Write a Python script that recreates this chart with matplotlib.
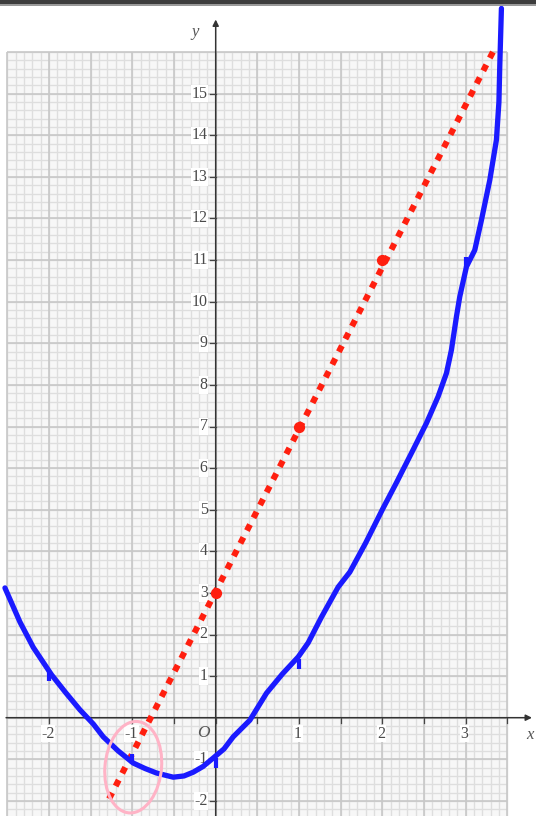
import matplotlib

matplotlib.use("Agg")
import matplotlib.pyplot as plt
import numpy as np
from matplotlib.patches import Ellipse, Rectangle

# hand-drawn blue curve
curve_x = [-2.53, -2.35, -2.19, -1.97, -1.80, -1.63, -1.47, -1.35, -1.17, -0.99,
           -0.85, -0.71, -0.51, -0.38, -0.27, -0.15, -0.03, 0.10, 0.21, 0.41,
           0.61, 0.80, 0.99, 1.11, 1.27, 1.47, 1.61, 1.80, 2.00, 2.17,
           2.37, 2.53, 2.67, 2.77, 2.83, 2.89, 2.93, 3.01, 3.11, 3.19,
           3.29, 3.37, 3.40, 3.41, 3.43]
curve_y = [3.12, 2.30, 1.69, 1.03, 0.60, 0.19, -0.15, -0.46, -0.80, -1.09,
           -1.22, -1.33, -1.43, -1.40, -1.31, -1.17, -0.97, -0.75, -0.46, -0.06,
           0.59, 1.05, 1.46, 1.80, 2.42, 3.14, 3.50, 4.20, 5.00, 5.65,
           6.44, 7.08, 7.72, 8.28, 8.84, 9.64, 10.12, 10.84, 11.24, 11.96,
           12.92, 13.89, 14.80, 15.65, 17.05]

# plotted points marked on the curve
mark_x = [-2, -1, 0, 1, 3]
mark_y = [1.0, -1.0, -1.1, 1.3, 10.95]

# red dotted straight line y = 4x + 3 and its plotted points
line_x = [-1.28, 3.34]
line_y = [-1.95, 16.05]
red_x = [0, 1, 2]
red_y = [3, 7, 11]

x_ticks = [-2, -1, 1, 2, 3]
x_tick_labels = ["-2", "-1", "1", "2", "3"]
y_ticks = [-2, -1, 1, 2, 3, 4, 5, 6, 7, 8, 9, 10, 11, 12, 13, 14, 15]

# pixel geometry of the scan
W, H = 536, 816
X0, XS = 215.7, 83.3   # px of x=0, px per unit
Y0, YS = 717.7, 41.6   # px of y=0, px per unit

fig = plt.figure(figsize=(W / 100, H / 100), dpi=100)
ax = fig.add_axes([0, 0, 1, 1])
ax.set_xlim(-X0 / XS, (W - X0) / XS)
ax.set_ylim((Y0 - H) / YS, Y0 / YS)
ax.axis("off")

# graph paper
gx0, gx1, gy0, gy1 = -2.5, 3.5, -2.6, 16.0
ax.add_patch(Rectangle((gx0, gy0), gx1 - gx0, gy1 - gy0, facecolor="#f7f7f7",
                       edgecolor="none", zorder=0))
minor_x = np.arange(-25, 36) / 10
minor_y = np.arange(-13, 81) / 5
ax.vlines(minor_x, gy0, gy1, color="#dedede", lw=1.0, zorder=1)
ax.hlines(minor_y[minor_y <= gy1], gx0, gx1, color="#dedede", lw=1.0, zorder=1)
major_x = np.arange(-5, 8) / 2
major_y = np.arange(-2, 17)
ax.vlines(major_x, gy0, gy1, color="#c8c8c8", lw=1.2, zorder=1)
ax.hlines(major_y, gx0, gx1, color="#c8c8c8", lw=1.2, zorder=1)

# axes with arrows
ax.annotate("", xy=(3.83, 0), xytext=(gx0 - 0.05, 0),
            arrowprops=dict(arrowstyle="-|>", color="#333333", lw=1.1,
                            mutation_scale=9), zorder=3)
ax.annotate("", xy=(0, 16.85), xytext=(0, gy0),
            arrowprops=dict(arrowstyle="-|>", color="#333333", lw=1.1,
                            mutation_scale=9), zorder=3)

serif = ["Liberation Serif", "DejaVu Serif"]
lab_style = dict(family=serif, fontsize=11.5, color="#4a4a4a", zorder=4,
                 bbox=dict(facecolor="white", edgecolor="none", pad=0.5))

for t in np.arange(-2, 4, 0.5):
    ax.plot([t, t], [0, -0.12], color="#444444", lw=0.9, zorder=3)
for t in y_ticks:
    ax.plot([-0.07, 0], [t, t], color="#444444", lw=0.9, zorder=3)
    ax.annotate(str(t), (0, t), xytext=(-8, 0), textcoords="offset pixels",
                ha="right", va="center", **lab_style)
for t, s in zip(x_ticks, x_tick_labels):
    ax.annotate(s, (t, 0), xytext=(-1, -16), textcoords="offset pixels",
                ha="center", va="center", **lab_style)

ax.text(-0.15, -0.37, "O", family=serif, style="italic", fontsize=12.5,
        color="#555555", ha="center", va="center", zorder=4)
ax.text(-0.25, 16.48, "y", family=serif, style="italic", fontsize=12,
        color="#555555", ha="center", va="center", zorder=4)
ax.text(3.77, -0.42, "x", family=serif, style="italic", fontsize=12,
        color="#555555", ha="center", va="center", zorder=4)

# red dotted line
ax.plot(line_x, line_y, color="#ff1f0f", lw=4.4, dashes=(1.1, 1.25),
        dash_capstyle="butt", zorder=5)
ax.scatter(red_x, red_y, s=50, color="#ff1f0f", marker="o", zorder=5)

# blue curve
ax.plot(curve_x, curve_y, color="#1a1aff", lw=3.8, solid_capstyle="round",
        solid_joinstyle="round", zorder=6)
ax.plot(mark_x, mark_y, ls="none", marker="|", ms=7, mew=3, color="#1a1aff",
        zorder=6)

# pink ring round x = -1
ax.add_patch(Ellipse((-0.99, -1.19), 0.68, 2.2, angle=-2, fill=False,
                     edgecolor="#ffb3c6", lw=2.2, zorder=7))

# dark strip at the top of the scan
fig.add_artist(Rectangle((0, 1 - 4 / H), 1, 4 / H, transform=fig.transFigure,
                         facecolor="#3d3d3d", edgecolor="none"))
fig.add_artist(Rectangle((0, 1 - 6 / H), 1, 2 / H, transform=fig.transFigure,
                         facecolor="#9a9a9a", edgecolor="none"))

fig.savefig("out.png", dpi=100)
plt.close(fig)
